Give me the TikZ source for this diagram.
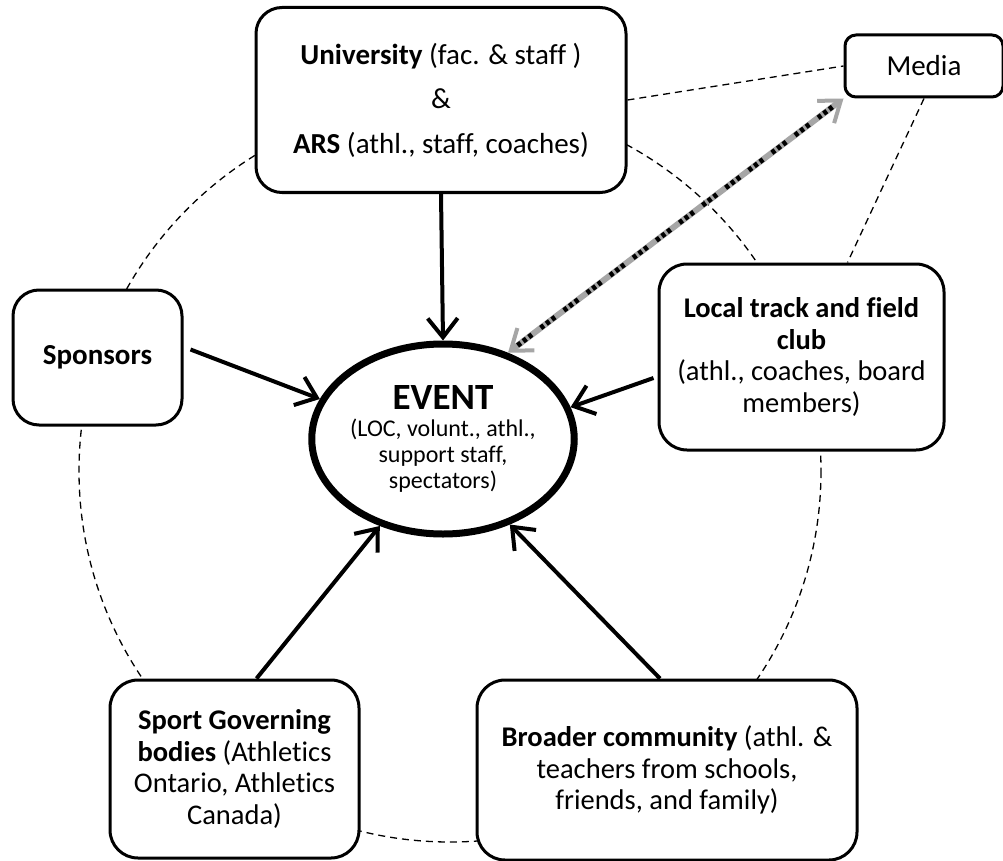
\documentclass[tikz,border=0pt]{standalone}
\usepackage{fontspec}
\setmainfont{Carlito}[Ligatures=NoCommon]
\usetikzlibrary{arrows.meta,shapes.geometric}
\begin{document}
\begin{tikzpicture}[x=1pt,y=-1pt,
  box/.style={draw=black,line width=3pt,fill=white,rounded corners=26pt,align=center,inner sep=0pt,
    font=\fontsize{28.5}{31.5}\selectfont},
  flow/.style={line width=4pt,-{Straight Barb[length=19pt,width=30pt,line width=4pt]}},
  link/.style={line width=1.3pt,dash pattern=on 7pt off 5pt},
]
\useasboundingbox[fill=white] (0,0) rectangle (1003,861);
% dashed circle
\draw[link] (450,471) circle[radius=371];
% nodes
\node[box,minimum width=370pt,minimum height=185pt,font=\fontsize{29}{31.5}\selectfont] (univ) at (441,100)
  {\textbf{University} (fac. \& staff )\\[13pt] \&\\[13pt] \textbf{ARS} (athl., staff, coaches)};
\node[box,rounded corners=11pt,minimum width=158pt,minimum height=62pt,font=\fontsize{29}{31.5}\selectfont] (media) at (924,66) {Media};
\node[box,minimum width=169pt,minimum height=135pt,font=\fontsize{29}{31.5}\selectfont] (spons) at (97.5,357.5) {\textbf{Sponsors}};
\node[box,rounded corners=28pt,minimum width=285pt,minimum height=186pt] (local) at (801.5,357)
  {\textbf{Local track and field}\\ \textbf{club}\\ (athl., coaches, board\\ members)};
\node[box,rounded corners=28pt,minimum width=249pt,minimum height=178pt] (sport) at (234.5,769)
  {\textbf{Sport Governing}\\ \textbf{bodies} (Athletics\\ Ontario, Athletics\\ Canada)};
\node[box,rounded corners=28pt,minimum width=380pt,minimum height=180pt] (broad) at (667,770)
  {\textbf{Broader community} (athl. \&\\ teachers from schools,\\ friends, and family)};
\node[draw=black,line width=7pt,fill=white,ellipse,minimum width=250pt,minimum height=190pt,inner sep=0pt,align=center,
  font=\fontsize{24}{26}\selectfont] (event) at (443,439)
  {\fontsize{37}{38}\selectfont\textbf{EVENT}\\[1pt]
   \fontsize{24}{26}\selectfont (LOC, volunt., athl.,\\ support staff,\\ spectators)};
% media dashed links
\draw[link] (univ.east) -- (media.west);
\draw[link] (media.south) -- ([xshift=46pt]local.north);
% solid arrows
\draw[flow] (univ.south) -- (event.north);
\draw[flow] ([shift={(7,-8)}]spons.east) -- (event.162);
\draw[flow] ([shift={(-4,21)}]local.west) -- (event.14);
\draw[flow] ([xshift=22pt]sport.north) -- (event.234);
\draw[flow] ([xshift=-7pt]broad.north) -- (event.308);
% media arrow
\draw[line width=6pt,draw=black!35,{Straight Barb[length=19pt,width=28pt,line width=4pt]}-{Straight Barb[length=19pt,width=28pt,line width=4pt]}]
  (event.53) -- (media.south west);
\draw[line width=5pt,draw=black,dash pattern=on 4pt off 3pt on 4pt off 3pt on 4pt off 11pt,shorten <=12pt,shorten >=12pt]
  (event.53) -- (media.south west);
\end{tikzpicture}
\end{document}
